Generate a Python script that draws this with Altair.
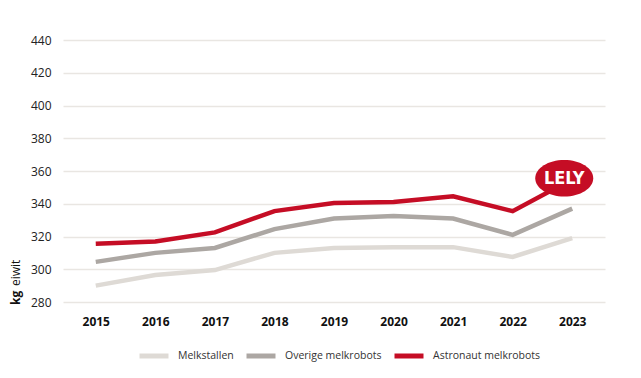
import altair as alt
import pandas as pd

years = ["2015", "2016", "2017", "2018", "2019", "2020", "2021", "2022", "2023"]
series_names = ["Melkstallen", "Overige melkrobots", "Astronaut melkrobots"]
melkstallen = [290, 296.5, 299.5, 310, 313, 313.5, 313.5, 307.5, 319]
overige = [304.5, 310, 313, 324.5, 331, 332.5, 331, 321, 337]
astronaut = [315.5, 317, 322.5, 335.5, 340.5, 341, 344.5, 335.5, 355]
colors = ["#dedad5", "#aca7a3", "#c50d25"]
y_ticks = [280, 300, 320, 340, 360, 380, 400, 420, 440]

rows = []
for name, vals in zip(series_names, [melkstallen, overige, astronaut]):
    for yr, v in zip(years, vals):
        rows.append({"jaar": yr, "serie": name, "waarde": v})
df = pd.DataFrame(rows)

FONT = "Open Sans"

x_enc = alt.X("jaar:N", sort=years,
              scale=alt.Scale(type="point", padding=0.55),
              axis=alt.Axis(title=None, labelAngle=0, labelFontWeight="bold",
                            labelFontSize=12, labelColor="#111", labelPadding=14,
                            ticks=False, domain=False, grid=False))
y_enc = alt.Y("waarde:Q",
              scale=alt.Scale(domain=[280, 440], nice=False, zero=False),
              axis=alt.Axis(title=None, values=y_ticks, labelFontSize=12,
                            labelColor="#222", labelPadding=12, ticks=False,
                            labelOverlap=False,
                            domain=False, gridColor="#e9e6e2", gridWidth=1.5))

lines = alt.Chart(df).mark_line(strokeWidth=4.5, strokeJoin="miter").encode(
    x=x_enc,
    y=y_enc,
    color=alt.Color("serie:N", sort=series_names,
                    scale=alt.Scale(domain=series_names, range=colors),
                    legend=alt.Legend(title=None, orient="none", direction="horizontal",
                                      legendX=74, legendY=299,
                                      symbolType="stroke", symbolSize=841,
                                      symbolStrokeWidth=5, labelFontSize=10.5,
                                      labelColor="#333", labelOffset=7,
                                      columnPadding=2, labelFont=FONT)),
)

logo_df = pd.DataFrame({"jaar": [years[-1]], "waarde": [astronaut[-1]], "tekst": ["LELY"]})
ellipse = "M -1 0 A 1 0.63 0 1 1 1 0 A 1 0.63 0 1 1 -1 0 Z"
logo = alt.Chart(logo_df).mark_point(shape=ellipse, size=3364, filled=True,
                                      color="#c50d25", opacity=1,
                                      xOffset=-8, yOffset=-1).encode(
    x=x_enc, y=y_enc)
logo_text = alt.Chart(logo_df).mark_text(font="DejaVu Sans Condensed", fontWeight="bold",
                                          fontSize=18, color="white",
                                          xOffset=-8, yOffset=0).encode(
    x=x_enc, y=y_enc, text="tekst:N")

title_df = pd.DataFrame({"a": [1]})
t_kg = alt.Chart(title_df).mark_text(text="kg", angle=270, align="left", baseline="middle",
                                      fontWeight="bold", fontSize=12, color="#111",
                                      font=FONT).encode(
    x=alt.value(-47), y=alt.value(265))
t_eiwit = alt.Chart(title_df).mark_text(text="eiwit", angle=270, align="left",
                                         baseline="middle", fontSize=12, color="#111",
                                         font=FONT).encode(
    x=alt.value(-47), y=alt.value(246))

chart = alt.layer(lines, logo, logo_text, t_kg, t_eiwit).properties(
    width=542, height=262,
    autosize=alt.AutoSizeParams(type="none"),
    padding={"left": 55, "top": 32, "right": 24, "bottom": 68},
).configure(font=FONT).configure_view(strokeWidth=0, stroke="transparent").configure_axis(labelFont=FONT)

chart.save("out.html", embed_options={"renderer": "svg", "actions": False})
